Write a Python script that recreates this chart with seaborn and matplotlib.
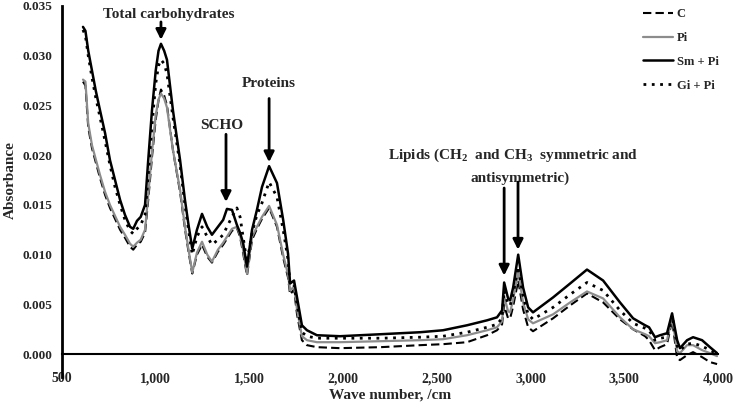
import matplotlib
matplotlib.use("Agg")
import matplotlib.pyplot as plt
import seaborn as sns
import pandas as pd
from matplotlib.lines import Line2D

# wave number grid (cm-1)
wave = [612, 625, 640, 660, 680, 703, 730, 756, 783, 810, 836, 863, 880, 900, 920, 943,
        960, 980, 1000, 1015, 1028, 1045, 1060, 1092, 1130, 1156, 1175, 1195, 1220, 1247,
        1275, 1300, 1332, 1360, 1380, 1407, 1433, 1450, 1466, 1487, 1514, 1540, 1567, 1605,
        1647, 1680, 1706, 1717, 1738, 1754, 1780, 1807, 1860, 1983, 2200, 2410, 2533, 2661,
        2768, 2821, 2848, 2859, 2880, 2891, 2907, 2934, 2960, 2987, 3013, 3120, 3211, 3301,
        3387, 3477, 3547, 3611, 3632, 3664, 3691, 3728, 3755, 3782, 3797, 3835, 3867, 3915,
        3957, 3995]

c_vals = [.0274, .0270, .0228, .0207, .0193, .0177, .0160, .0147, .0136, .0125, .0117, .0108,
          .0105, .0110, .0113, .0122, .0155, .0198, .0236, .0255, .0266, .0260, .0250, .0205,
          .0163, .0126, .0103, .0081, .0100, .0110, .0098, .0092, .0103, .0110, .0116, .0124,
          .0127, .0118, .0102, .0079, .0115, .0126, .0136, .0147, .0128, .0097, .0077, .0060,
          .0065, .0040, .0014, .0009, .0007, .0006, .0007, .0009, .0010, .0012, .0019, .0024,
          .0030, .0049, .0036, .0036, .0048, .0074, .0045, .0027, .0023, .0036, .0049, .0061,
          .0052, .0035, .0025, .0018, .0014, .0004, .0007, .0010, .0034, -.0004, -.0006,
          -.0001, .0002, -.0003, -.0008, -.0010]

pi_vals = [.0276, .0274, .0232, .0210, .0196, .0180, .0163, .0150, .0139, .0128, .0120, .0111,
           .0108, .0112, .0115, .0125, .0160, .0203, .0240, .0256, .0262, .0257, .0248, .0205,
           .0165, .0128, .0105, .0082, .0102, .0113, .0100, .0093, .0105, .0112, .0118, .0126,
           .0128, .0120, .0105, .0081, .0118, .0128, .0138, .0149, .0130, .0100, .0080, .0064,
           .0068, .0045, .0018, .0014, .0012, .0012, .0013, .0014, .0015, .0019, .0024, .0027,
           .0033, .0058, .0043, .0042, .0055, .0083, .0052, .0035, .0031, .0040, .0052, .0063,
           .0056, .0037, .0025, .0020, .0018, .0011, .0012, .0014, .0037, .0003, .0001,
           .0009, .0009, .0004, .0001, -.0002]

sm_vals = [.0329, .0325, .0305, .0285, .0265, .0245, .0222, .0195, .0175, .0155, .0140, .0128,
           .0126, .0134, .0138, .0150, .0195, .0245, .0285, .0305, .0312, .0305, .0296, .0245,
           .0195, .0155, .0130, .0106, .0125, .0141, .0128, .0120, .0128, .0135, .0146, .0145,
           .0130, .0122, .0112, .0088, .0125, .0145, .0168, .0189, .0172, .0135, .0101, .0071,
           .0074, .0057, .0029, .0024, .0019, .0018, .0020, .0022, .0024, .0029, .0034, .0037,
           .0044, .0072, .0056, .0054, .0067, .0100, .0067, .0047, .0042, .0057, .0071, .0085,
           .0074, .0052, .0036, .0029, .0027, .0017, .0019, .0021, .0041, .0014, .0006,
           .0014, .0017, .0014, .0007, .0001]

gi_vals = [.0326, .0320, .0300, .0278, .0258, .0238, .0214, .0190, .0168, .0150, .0135, .0124,
           .0121, .0126, .0130, .0140, .0180, .0230, .0272, .0290, .0296, .0292, .0282, .0238,
           .0190, .0150, .0125, .0100, .0118, .0128, .0118, .0110, .0115, .0120, .0128, .0138,
           .0147, .0138, .0118, .0092, .0122, .0140, .0152, .0173, .0158, .0125, .0095, .0069,
           .0070, .0050, .0022, .0018, .0016, .0016, .0016, .0017, .0018, .0022, .0027, .0030,
           .0036, .0064, .0050, .0049, .0060, .0088, .0058, .0040, .0035, .0047, .0060, .0072,
           .0064, .0044, .0031, .0026, .0024, .0014, .0016, .0017, .0039, .0008, .0004,
           .0010, .0011, .0008, .0004, .0000]

series = ["C", "Pi", "Sm + Pi", "Gi + Pi"]
y_ticks = [0.000, 0.005, 0.010, 0.015, 0.020, 0.025, 0.030, 0.035]
x_ticks = [500, 1000, 1500, 2000, 2500, 3000, 3500, 4000]

sns.set_style("white")
plt.rcParams["font.family"] = ["Liberation Serif", "DejaVu Serif"]
plt.rcParams["font.weight"] = "bold"
plt.rcParams["mathtext.fontset"] = "custom"
plt.rcParams["mathtext.rm"] = "Liberation Serif:bold"
plt.rcParams["mathtext.it"] = "Liberation Serif:bold"
plt.rcParams["mathtext.bf"] = "Liberation Serif:bold"

styles = {
    "C": dict(color="black", lw=1.5, ls=(0, (4, 2))),
    "Pi": dict(color="#8c8c8c", lw=1.6, ls="-"),
    "Sm + Pi": dict(color="black", lw=1.8, ls="-"),
    "Gi + Pi": dict(color="black", lw=2.0, ls=(0, (1, 2))),
}

df = pd.DataFrame({"wave": wave * 4,
                   "abs": c_vals + pi_vals + sm_vals + gi_vals,
                   "group": sum([[s] * len(wave) for s in series], [])})

fig = plt.figure(figsize=(7.38, 4.03), dpi=100)
ax = fig.add_axes([62 / 738, 1 - 377 / 403, (718 - 62) / 738, (377 - 6) / 403])

for s in series:
    st = styles[s]
    sns.lineplot(data=df[df.group == s], x="wave", y="abs", ax=ax, sort=False,
                 estimator=None, color=st["color"], linewidth=st["lw"], linestyle=st["ls"])

ax.set_xlim(500, 4000)
ax.set_ylim(-0.0023, 0.035)
ax.set_xticks(x_ticks)
ax.set_xticklabels([f"{t:,}" for t in x_ticks], fontsize=9.5, fontweight="bold")
ax.set_yticks(y_ticks)
ax.set_yticklabels([f"{t:.3f}" for t in y_ticks], fontsize=9.5, fontweight="bold")
ax.tick_params(axis="x", length=0, pad=13)
ax.tick_params(axis="y", length=0, pad=7)
ax.set_xlabel("")
ax.set_ylabel("")
for side in ["top", "right"]:
    ax.spines[side].set_visible(False)
ax.spines["bottom"].set_position(("data", 0))
ax.spines["bottom"].set_linewidth(1.5)
ax.spines["left"].set_linewidth(2)
ax.spines["bottom"].set_color("black")
ax.spines["left"].set_color("black")

fig.text(10 / 738, 1 - 180 / 403, "Absorbance", rotation=90, ha="center", va="center",
         fontsize=11, fontweight="bold")
fig.text(390 / 738, 1 - 395 / 403, "Wave number, /cm", ha="center", va="center",
         fontsize=11, fontweight="bold")

arrow = dict(arrowstyle="-|>,head_length=0.6,head_width=0.3", color="black", lw=2,
             shrinkA=0, shrinkB=0)
ax.text(1068, 0.0341, "Total carbohydrates", ha="center", va="center", fontsize=11)
ax.annotate("", xy=(1028, 0.0316), xytext=(1028, 0.0334), arrowprops=arrow)
ax.text(1354, 0.0230, "SCHO", ha="center", va="center", fontsize=11)
ax.annotate("", xy=(1375, 0.0153), xytext=(1375, 0.0221), arrowprops=arrow)
ax.text(1605, 0.0272, "Proteins", ha="center", va="center", fontsize=11)
ax.annotate("", xy=(1605, 0.0193), xytext=(1605, 0.0257), arrowprops=arrow)
ax.text(2907, 0.0200, r"Lipids (CH$_2$  and CH$_3$  symmetric and", ha="center",
        va="center", fontsize=11)
ax.text(2944, 0.0177, "antisymmetric)", ha="center", va="center", fontsize=11)
ax.annotate("", xy=(2859, 0.0079), xytext=(2859, 0.0167), arrowprops=arrow)
ax.annotate("", xy=(2933, 0.0105), xytext=(2933, 0.0173), arrowprops=arrow)

handles = [Line2D([], [], color=styles[s]["color"], lw=styles[s]["lw"], ls=styles[s]["ls"])
           for s in series]
fig.legend(handles, series, loc="upper left", bbox_to_anchor=(0.856, 1.008), frameon=False,
           fontsize=9, handlelength=2.4, handletextpad=0.3, labelspacing=0.95)

fig.savefig("out.png", dpi=100)
